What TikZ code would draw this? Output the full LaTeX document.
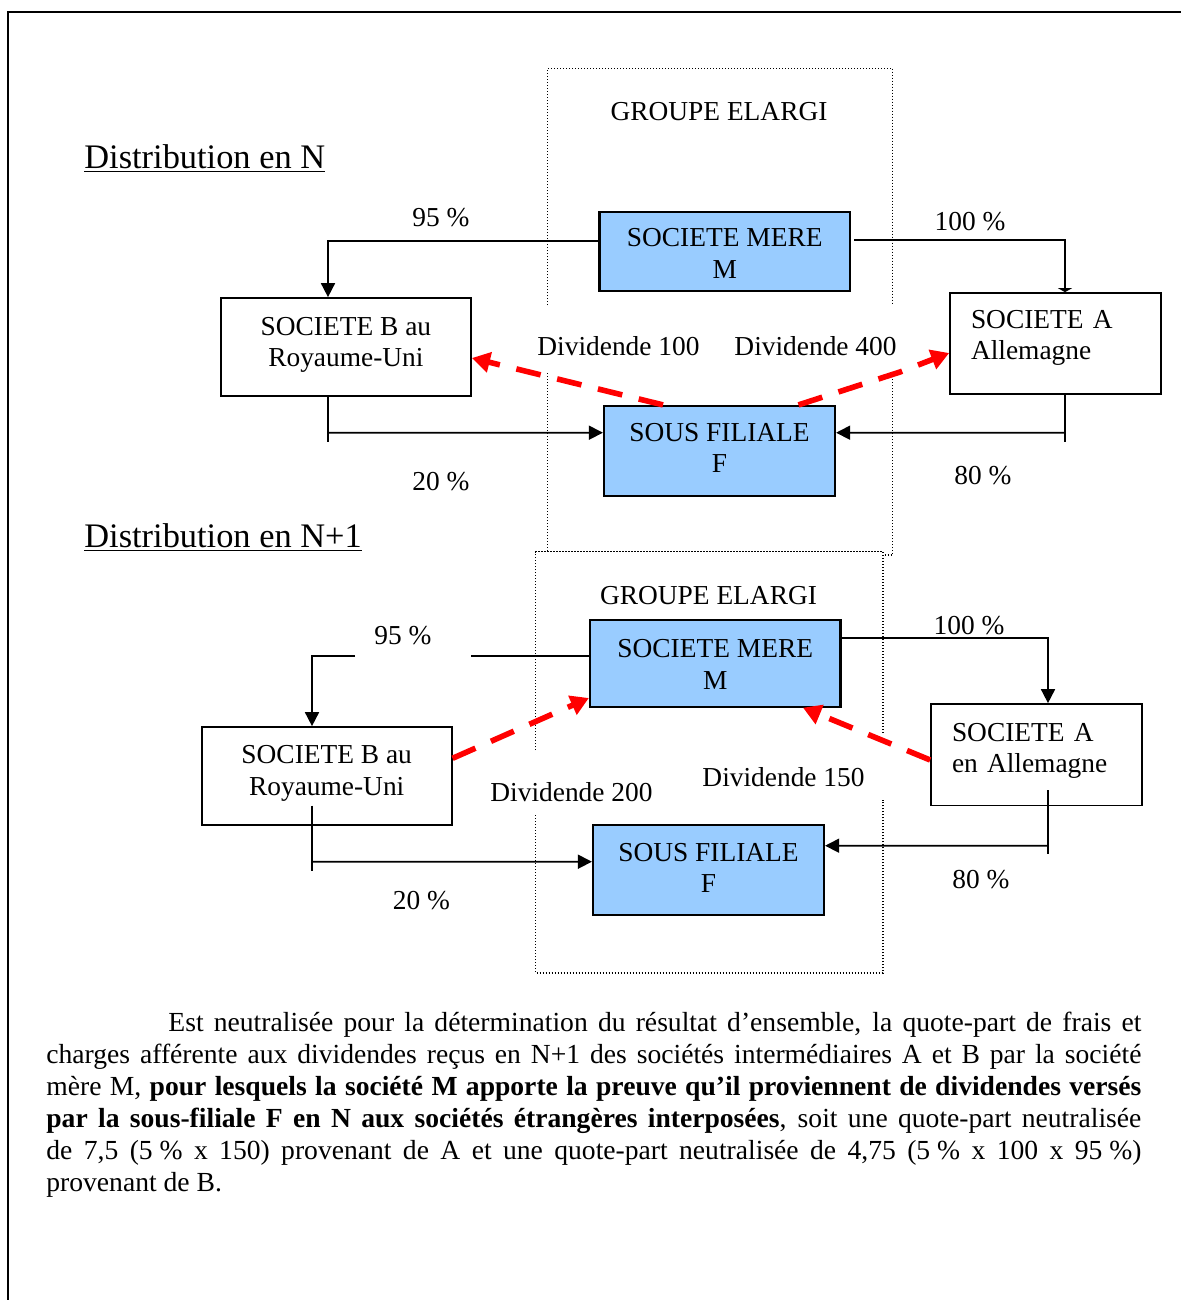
\documentclass[tikz,border=0pt]{standalone}
\usepackage{fontspec}
\setmainfont{Liberation Serif}
\usetikzlibrary{arrows.meta}
\definecolor{boxblue}{RGB}{153,204,255}
\definecolor{divred}{RGB}{255,0,0}
% extra depth on the last line of a box text, to lift the text block
\newcommand{\lowdepth}[1]{\rule[-#1]{0pt}{#1}}
% extra height on the first line of a box text, to lower the text block
\newcommand{\topheight}[1]{\rule{0pt}{#1}}

\begin{document}
\begin{tikzpicture}[x=0.5pt,y=-0.5pt,
  txt/.style={font=\fontsize{13.7}{15.6}\selectfont, inner sep=0pt},
  pct/.style={txt, anchor=base},
  entity/.style={draw, line width=0.85pt, fill=white, align=center, inner sep=0pt,
                 font=\fontsize{13.7}{15.6}\selectfont},
  bluebox/.style={entity, fill=boxblue, line width=1.1pt},
  link/.style={line width=0.85pt},
  linkarrow/.style={link, -{Triangle[length=7pt,width=7pt]}},
  dividend/.style={draw=divred, line width=2.8pt, dash pattern=on 12.5pt off 8.5pt,
                   -{Triangle[length=9pt,width=10pt]}},
  groupline/.style={line width=0.6pt, dash pattern=on 0.6pt off 0.9pt},
  groupline2/.style={line width=0.75pt, dash pattern=on 0.7pt off 0.8pt},
]
\useasboundingbox (0,0) rectangle (1181,1300);

% page frame
\draw[line width=1.1pt] (1181,11.7) -- (8.3,11.7) -- (8.3,1300);

% "groupe elargi" frames (dotted)
\draw[groupline] (547.7,305) -- (547.7,68.3) -- (892.7,68.3) -- (892.7,303);
\draw[groupline] (547.7,373) -- (547.7,555) -- (892.7,555) -- (892.7,373);
\fill[white] (535.7,551.7) rectangle (883,973);
\draw[groupline2] (535.7,750) -- (535.7,551.7) -- (883,551.7) -- (883,733);
\draw[groupline2] (535.7,815) -- (535.7,973) -- (883,973) -- (883,800);

% titles
\node[anchor=base west, inner sep=0pt, font=\fontsize{17.2}{20}\selectfont] (t1) at (84,168.3) {\underline{Distribution en N}};
\node[anchor=base west, inner sep=0pt, font=\fontsize{17.2}{20}\selectfont] (t2) at (84,547) {\underline{Distribution en N+1}};

% ---------- distribution en N ----------
\node[pct] (grp1) at (719,121) {GROUPE ELARGI};
\node[bluebox, minimum width=125.3pt, minimum height=39.2pt] (M) at (724.7,251.5) {\topheight{11.1pt}SOCIETE MERE\\M};
\node[entity, minimum width=125.2pt, minimum height=49pt] (B) at (345.9,347) {SOCIETE B au\\Royaume-Uni\lowdepth{4.7pt}};
\node[entity, text width=84.5pt, align=left, inner xsep=10.5pt, minimum height=50.5pt] (A) at (1055.5,343.5) {SOCIETE A\\Allemagne\lowdepth{8.5pt}};
\node[bluebox, minimum width=115.5pt, minimum height=45pt] (F) at (719.5,451) {SOUS FILIALE\\F\lowdepth{2.8pt}};

\coordinate (bEnd) at (328,441.7);
\coordinate (bJoin) at (328,432.7);
\coordinate (aEnd) at (1065,441.7);
\coordinate (aJoin) at (1065,432.7);
\coordinate (bend400) at (900,372);

\draw[linkarrow] ([yshift=5.1pt]M.west) -| ([xshift=-8.95pt]B.north);
\draw[link, -{Triangle[length=2pt,width=7pt]}] ([xshift=1.5pt,yshift=5.75pt]M.east) -| ([xshift=4.75pt]A.north);
\draw[link] ([xshift=-8.95pt]B.south) -- (bEnd);
\draw[linkarrow] (bJoin) -- ([yshift=9.15pt]F.west);
\draw[link] ([xshift=4.75pt]A.south) -- (aEnd);
\draw[linkarrow] (aJoin) -- ([yshift=9.15pt]F.east);

\draw[dividend] ([xshift=-28.25pt]F.north) -- ([yshift=-5.5pt]B.east);
\draw[dividend] ([xshift=39.5pt]F.north) -- (bend400) -- ([yshift=-4.75pt]A.west);

\node[pct] (p95) at (441,227) {95 \%};
\node[pct] (p100) at (970,230.7) {100 \%};
\node[pct] (p20) at (441,490.7) {20 \%};
\node[pct] (p80) at (983,484.7) {80 \%};
\node[pct] (d100) at (618.5,355.7) {Dividende 100};
\node[pct] (d400) at (815.5,355.7) {Dividende 400};

% ---------- distribution en N+1 ----------
\node[pct] (grp2) at (708.5,604) {GROUPE ELARGI};
\node[bluebox, minimum width=125.25pt, minimum height=43.3pt] (M2) at (715.2,663.3) {\topheight{10.1pt}SOCIETE MERE\\M};
\node[entity, minimum width=125pt, minimum height=49pt] (B2) at (326.7,776) {SOCIETE B au\\Royaume-Uni\lowdepth{5.5pt}};
\node[entity, text width=84.5pt, align=left, inner xsep=10.5pt, minimum height=50.8pt] (A2) at (1036.5,754.8) {SOCIETE A\\en Allemagne\lowdepth{7pt}};
\node[bluebox, minimum width=115.5pt, minimum height=45pt] (F2) at (708.5,870) {SOUS FILIALE\\F\lowdepth{2pt}};

\coordinate (gap95r) at (471,655.7);
\coordinate (gap95l) at (355,655.7);
\coordinate (b2Top) at (312,805.7);
\coordinate (b2End) at (312,871);
\coordinate (b2Join) at (312,861.7);
\coordinate (a2Top) at (1048,790);
\coordinate (a2End) at (1048,854);
\coordinate (a2Join) at (1048,845.7);

\draw[link] ([yshift=3.8pt]M2.west) -- (gap95r);
\draw[linkarrow] (gap95l) -| ([xshift=-7.35pt]B2.north);
\draw[linkarrow] ([yshift=12.5pt]M2.east) -| ([xshift=5.75pt]A2.north);
\draw[link] (b2Top) -- (b2End);
\draw[linkarrow] (b2Join) -- ([yshift=4.15pt]F2.west);
\draw[link] (a2Top) -- (a2End);
\draw[linkarrow] (a2Join) -- ([yshift=12.15pt]F2.east);

\draw[dividend] ([yshift=8.85pt]B2.east) -- ([yshift=4.85pt]M2.south west);
\draw[dividend] ([yshift=-2.6pt]A2.west) -- ([xshift=43.9pt]M2.south);

\node[pct] (p95b) at (403,644.2) {95 \%};
\node[pct] (p100b) at (969,634.7) {100 \%};
\node[pct] (p20b) at (421.5,909.7) {20 \%};
\node[pct] (p80b) at (981,888.7) {80 \%};
\node[pct] (d200) at (571.5,801.7) {Dividende 200};
\node[pct] (d150) at (783.5,786.7) {Dividende 150};

% ---------- commentary ----------
\node[anchor=base west, inner sep=0pt] (para) at (46,1031.7) {\parbox[t]{547.5pt}{\fontsize{13.8}{16}\selectfont
\makebox[\linewidth][s]{\hspace*{61pt}Est neutralisée pour la détermination du résultat d’ensemble, la quote-part de frais et}\\
\makebox[\linewidth][s]{charges afférente aux dividendes reçus en N+1 des sociétés intermédiaires A et B par la société}\\
\makebox[\linewidth][s]{mère M, \textbf{pour lesquels la société M apporte la preuve qu’il proviennent de dividendes versés}}\\
\makebox[\linewidth][s]{\textbf{par la sous-filiale F en N aux sociétés étrangères interposées}, soit une quote-part neutralisée}\\
\makebox[\linewidth][s]{de 7,5 (\mbox{5 \%} x 150) provenant de A et une quote-part neutralisée de 4,75 (\mbox{5 \%} x 100 x \mbox{95 \%})}\\
provenant de B.}};

\end{tikzpicture}
\end{document}
